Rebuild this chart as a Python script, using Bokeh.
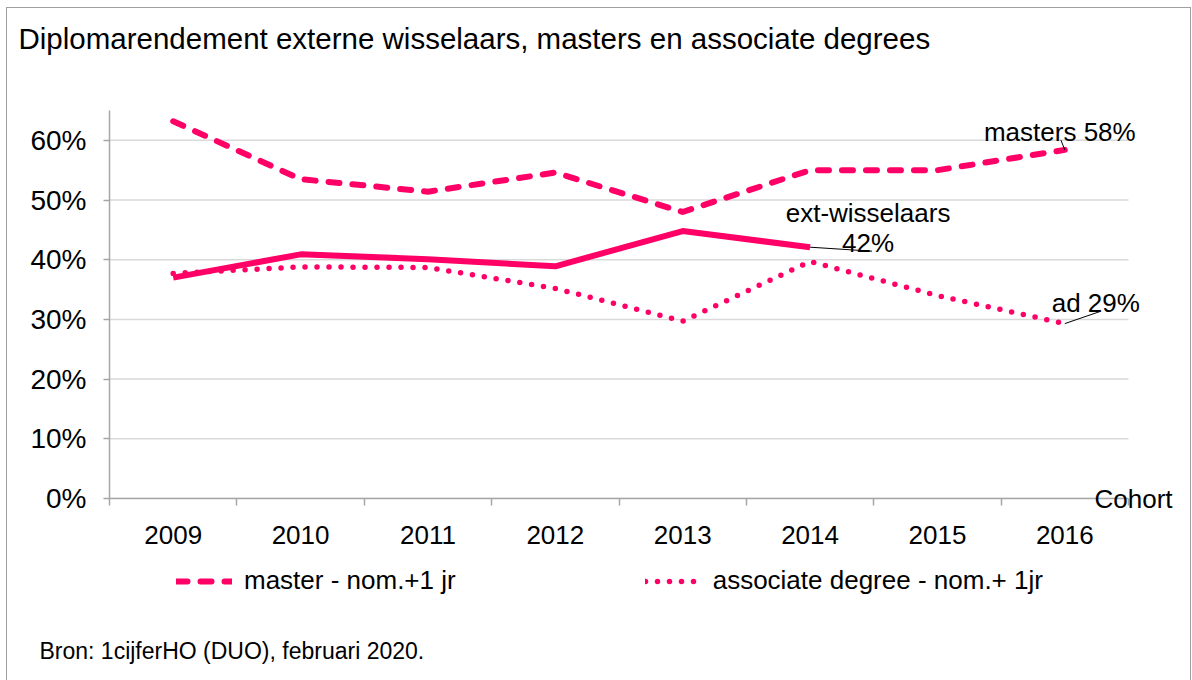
from bokeh.plotting import figure
from bokeh.layouts import column
from bokeh.models import (Range1d, FixedTicker, NumeralTickFormatter, Label, Legend,
                          LegendItem, LinearAxis, Title)
from bokeh.embed import file_html
from bokeh.resources import INLINE

# ---------------- data ----------------
years = [2009, 2010, 2011, 2012, 2013, 2014, 2015, 2016]
master = [0.632, 0.535, 0.514, 0.546, 0.480, 0.550, 0.550, 0.584]
associate = [0.377, 0.388, 0.387, 0.352, 0.297, 0.397, 0.340, 0.293]
ext_years = [2009, 2010, 2011, 2012, 2013, 2014]
ext_wisselaars = [0.370, 0.409, 0.401, 0.389, 0.448, 0.421]
y_ticks = [0.0, 0.1, 0.2, 0.3, 0.4, 0.5, 0.6]

title_text = "Diplomarendement externe wisselaars, masters en associate degrees"
x_axis_title = "Cohort"
source_text = "Bron: 1cijferHO (DUO), februari 2020."
legend_master = "master - nom.+1 jr"
legend_assoc = "associate degree - nom.+ 1jr"
name_master = "masters"
name_ext = "ext-wisselaars"
name_assoc = "ad"

# ---------------- style ----------------
PINK = "#ff0066"
FONT = "Liberation Sans"
TXT = "#000000"
GRID = "#d9d9d9"
AXIS = "#a6a6a6"

OX, OY = 6, 7                 # layout offset on the page
ML, MT = 102, 102             # frame left / top inside main figure
FW, FH = 1038, 388            # frame size
MR, MB = 43, 60
W = ML + FW + MR
H2 = 680 - OY - (MT + FH + MB)   # height of the bottom strip (legend + source)
PX_PER_YEAR = 1019 / 8
X_LO = years[0] - 0.5
X_END = years[-1] + 0.5
X_HI = X_LO + FW / PX_PER_YEAR
Y_LO, Y_HI = 0.0, 0.65

px_x = 1 / PX_PER_YEAR
px_y = (Y_HI - Y_LO) / FH

DASH_M = dict(line_color=PINK, line_width=6, line_dash="11 13", line_cap="round", line_join="round")
DOT_A = dict(line_color=PINK, line_width=5.5, line_dash="0 12", line_cap="round", line_join="round")

p = figure(frame_width=FW, frame_height=FH, output_backend="svg", toolbar_location=None,
           x_range=Range1d(X_LO, X_HI), y_range=Range1d(Y_LO, Y_HI),
           min_border_left=ML, min_border_top=MT,
           min_border_right=MR, min_border_bottom=MB)
p.frame_align = False
p.outline_line_color = None
p.background_fill_color = "white"
p.border_fill_color = "white"

# title (outermost) with a blank spacer between it and the frame
p.title.text = title_text
p.title.align = "left"
p.title.offset = 17 - (OX + ML)
p.title.standoff = 0
p.title.text_font = FONT
p.title.text_font_size = "29.5px"
p.title.text_font_style = "normal"
p.title.text_color = TXT
p.add_layout(Title(text=" ", text_font_size="1px", standoff=53), "above")

# grid (limited to the category span)
p.xgrid.visible = False
p.ygrid.visible = False
p.segment(x0=[X_LO] * len(y_ticks), y0=y_ticks, x1=[X_END] * len(y_ticks), y1=y_ticks,
          line_color=GRID, line_width=1.5, level="underlay")

# y axis
p.yaxis.ticker = FixedTicker(ticks=y_ticks)
p.yaxis.formatter = NumeralTickFormatter(format="0%")
p.yaxis.axis_line_color = AXIS
p.yaxis.axis_line_width = 1.5
p.yaxis.major_tick_line_color = AXIS
p.yaxis.major_tick_line_width = 1.5
p.yaxis.major_tick_out = 6
p.yaxis.major_tick_in = 0
p.yaxis.minor_tick_line_color = None
p.yaxis.major_label_text_font = FONT
p.yaxis.major_label_text_font_size = "28px"
p.yaxis.major_label_text_color = TXT
p.yaxis.major_label_standoff = 17

# x axis
p.xaxis.ticker = FixedTicker(ticks=years, minor_ticks=[y - 0.5 for y in years] + [X_END])
p.xaxis.bounds = (X_LO, X_END)
p.xaxis.axis_line_color = AXIS
p.xaxis.axis_line_width = 1.5
p.xaxis.major_tick_line_color = None
p.xaxis.major_tick_out = 0
p.xaxis.major_tick_in = 0
p.xaxis.minor_tick_line_color = AXIS
p.xaxis.minor_tick_line_width = 1.5
p.xaxis.minor_tick_out = 7
p.xaxis.minor_tick_in = 0
p.xaxis.major_label_text_font = FONT
p.xaxis.major_label_text_font_size = "26px"
p.xaxis.major_label_text_color = TXT
p.xaxis.major_label_standoff = 20

# "Cohort" as a label of an unlined right axis at 0
cohort_axis = LinearAxis(ticker=FixedTicker(ticks=[0]), major_label_overrides={0: x_axis_title},
                         axis_line_color=None, major_tick_line_color=None,
                         minor_tick_line_color=None, major_tick_out=0, major_tick_in=0,
                         major_label_standoff=1093 - (OX + ML + FW),
                         major_label_text_font=FONT, major_label_text_font_size="26px",
                         major_label_text_color=TXT)
p.add_layout(cohort_axis, "right")

# lines
r_master = p.line(years, master, **DASH_M)
r_ext = p.line(ext_years, ext_wisselaars, line_color=PINK, line_width=6,
               line_cap="butt", line_join="round")
r_ad = p.line(years, associate, **DOT_A)

# end-of-line annotations
def pct(v):
    return f"{round(v * 100)}%"

def lbl(fig, text, x, y, xo, yo, size="26px", align="center"):
    fig.add_layout(Label(x=x, y=y, x_offset=xo, y_offset=yo, text=text,
                         text_font=FONT, text_font_size=size, text_color=TXT,
                         text_align=align, text_baseline="middle"))

mx, my = years[-1], master[-1]
lbl(p, f"{name_master} {pct(my)}", mx, my, -5, 18)
p.segment(x0=[mx], y0=[my], x1=[mx - 4 * px_x], y1=[my + 10 * px_y], line_color="black", line_width=1)

ex, ey = ext_years[-1], ext_wisselaars[-1]
lbl(p, name_ext, ex, ey, 58, 34)
lbl(p, pct(ey), ex, ey, 58, 4)
p.segment(x0=[ex], y0=[ey], x1=[ex + 62 * px_x], y1=[ey - 4 * px_y], line_color="black", line_width=1)

ax_, ay_ = years[-1], associate[-1]
lbl(p, f"{name_assoc} {pct(ay_)}", ax_, ay_, 31, 21)
p.segment(x0=[ax_], y0=[ay_], x1=[ax_ + 35 * px_x], y1=[ay_ + 12 * px_y], line_color="black", line_width=1)

# ---------------- bottom strip: legend + source ----------------
# pixel-like ranges; the series are re-drawn here only to give the legend its
# line styles (they fall outside this strip's ranges and are not visible)
p2 = figure(width=W, height=H2, output_backend="svg", toolbar_location=None,
            x_range=Range1d(0, W), y_range=Range1d(0, H2),
            x_axis_type=None, y_axis_type=None,
            min_border_left=0, min_border_right=0, min_border_top=0, min_border_bottom=0)
p2.frame_align = False
p2.outline_line_color = None
p2.xgrid.visible = False
p2.ygrid.visible = False
p2.background_fill_color = "white"
p2.border_fill_color = "white"
l_master = p2.line(years, master, **DASH_M)
l_ad = p2.line(years, associate, **DOT_A)

page_bottom = OY + MT + FH + MB + H2
legend = Legend(items=[LegendItem(label=legend_master, renderers=[l_master]),
                       LegendItem(label=legend_assoc, renderers=[l_ad])],
                location=(175 - OX, page_bottom - 595),
                orientation="horizontal", padding=0, margin=0, spacing=189,
                border_line_color=None, background_fill_alpha=0,
                glyph_width=56, glyph_height=30, label_height=30,
                label_standoff=12,
                label_text_font=FONT, label_text_font_size="26px",
                label_text_color=TXT)
p2.add_layout(legend, "center")
lbl(p2, source_text, 38 - OX, page_bottom - 649, 0, 0, size="23px", align="left")

layout = column(p, p2, spacing=0,
                styles={"border": "1.5px solid #a0a0a0", "margin-left": f"{OX}px",
                        "margin-top": f"{OY}px"})

open("out.html", "w").write(file_html(layout, INLINE))
